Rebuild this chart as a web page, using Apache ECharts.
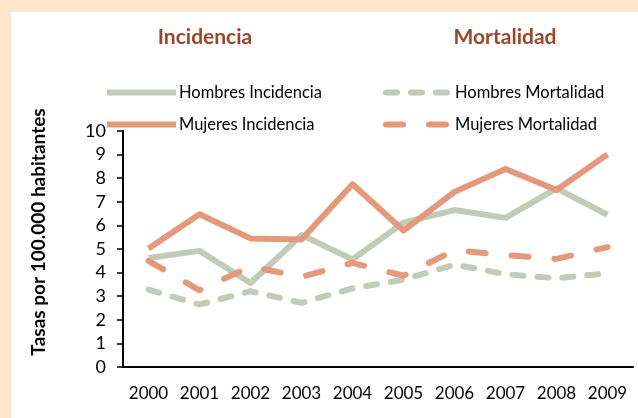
<!DOCTYPE html>
<html>
<head>
<meta charset="utf-8">
<script src="https://cdn.jsdelivr.net/npm/echarts@6/dist/echarts.min.js"></script>
<style>
html, body { margin: 0; padding: 0; background: #fde5cc; }
#chart { width: 638px; height: 418px; }
</style>
</head>
<body>
<div id="chart"></div>
<script>
var years = ['2000', '2001', '2002', '2003', '2004', '2005', '2006', '2007', '2008', '2009'];
var hombresIncidencia = [4.62, 4.92, 3.56, 5.59, 4.56, 6.12, 6.65, 6.32, 7.57, 6.45];
var mujeresIncidencia = [5.02, 6.47, 5.45, 5.40, 7.74, 5.78, 7.42, 8.39, 7.50, 9.01];
var hombresMortalidad = [3.28, 2.65, 3.21, 2.72, 3.33, 3.70, 4.34, 3.93, 3.76, 3.97];
var mujeresMortalidad = [4.50, 3.25, 4.26, 3.82, 4.41, 3.87, 4.95, 4.74, 4.58, 5.08];
var yTicks = [0, 1, 2, 3, 4, 5, 6, 7, 8, 9, 10];

var verde = '#c1cbb7';
var naranja = '#e3997a';
var font = 'Lato, "Open Sans", sans-serif';

var myChart = echarts.init(document.getElementById('chart'));
var option = {
  backgroundColor: '#fde5cc',
  animation: false,
  textStyle: { fontFamily: font },
  graphic: [{
    type: 'rect', z: -10, silent: true,
    shape: { x: 11, y: 12, width: 640, height: 420 },
    style: { fill: '#ffffff' }
  }],
  title: [{
    text: 'Incidencia', left: 200, top: 22, textAlign: 'center',
    textStyle: { color: '#9c4527', fontSize: 21, fontWeight: 'bold', fontFamily: font }
  }, {
    text: 'Mortalidad', left: 500, top: 22, textAlign: 'center',
    textStyle: { color: '#9c4527', fontSize: 21, fontWeight: 'bold', fontFamily: font }
  }],
  legend: [{
    data: [
      { name: 'Hombres Incidencia', lineStyle: { cap: 'butt' } },
      { name: 'Mujeres Incidencia', lineStyle: { cap: 'butt' } }
    ],
    orient: 'vertical', left: 99, top: 79,
    itemWidth: 69, itemHeight: 14, itemGap: 15,
    itemStyle: { opacity: 0 },
    lineStyle: { width: 6 },
    textStyle: { fontSize: 16.5, color: '#000', fontFamily: font, padding: [0, 0, 0, -2] }
  }, {
    data: [
      { name: 'Hombres Mortalidad', lineStyle: { cap: 'round' } },
      { name: 'Mujeres Mortalidad', lineStyle: { cap: 'round' } }
    ],
    orient: 'vertical', left: 378, top: 79,
    itemWidth: 64, itemHeight: 14, itemGap: 15,
    itemStyle: { opacity: 0 },
    lineStyle: { width: 6 },
    textStyle: { fontSize: 16.5, color: '#000', fontFamily: font, padding: [0, 0, 0, 0] }
  }],
  grid: { left: 123, right: 5, top: 131, bottom: 51 },
  xAxis: {
    type: 'category',
    data: years,
    axisLine: { lineStyle: { color: '#000', width: 2 } },
    axisTick: { show: false },
    axisLabel: { color: '#000', fontSize: 17, margin: 18, interval: 0, hideOverlap: false, fontFamily: font }
  },
  yAxis: {
    type: 'value',
    min: yTicks[0], max: yTicks[yTicks.length - 1], interval: 1,
    name: 'Tasas por 100.000 habitantes',
    nameLocation: 'middle', nameGap: 75,
    nameTextStyle: { fontSize: 19, fontWeight: 'bold', color: '#000', fontFamily: font, padding: [0, 0, 0, 34] },
    axisLine: { show: true, lineStyle: { color: '#000', width: 2 } },
    axisTick: { show: true, length: 6, lineStyle: { color: '#000', width: 1.5 } },
    axisLabel: { color: '#000', fontSize: 18, margin: 17, fontFamily: font },
    splitLine: { show: false }
  },
  series: [{
    name: 'Hombres Incidencia', type: 'line', data: hombresIncidencia,
    symbol: 'none', color: verde,
    lineStyle: { width: 6, color: verde, join: 'round' }
  }, {
    name: 'Mujeres Incidencia', type: 'line', data: mujeresIncidencia,
    symbol: 'none', color: naranja,
    lineStyle: { width: 6, color: naranja, join: 'round' }
  }, {
    name: 'Hombres Mortalidad', type: 'line', data: hombresMortalidad,
    symbol: 'none', color: verde,
    lineStyle: { width: 6, color: verde, type: [11, 14], cap: 'round', join: 'round' }
  }, {
    name: 'Mujeres Mortalidad', type: 'line', data: mujeresMortalidad,
    symbol: 'none', color: naranja,
    lineStyle: { width: 6, color: naranja, type: [17, 26], cap: 'round', join: 'round' }
  }]
};
myChart.setOption(option);
</script>
</body>
</html>
